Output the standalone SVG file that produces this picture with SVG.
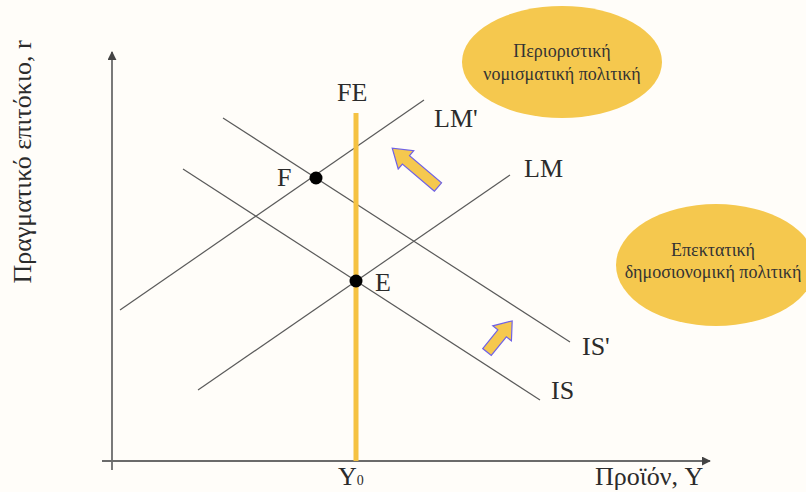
<svg xmlns="http://www.w3.org/2000/svg" width="806" height="492" viewBox="0 0 806 492">
<style>
.bg{fill:#fffdf9}
.curve{stroke:#5a5a5a;stroke-width:1.2;fill:none}
.axis{stroke:#6b6b6b;stroke-width:1.8;fill:none}
.lbl{font-family:"Liberation Serif","Times New Roman",serif;font-size:26px;fill:#2b2b2b}
.etxt{font-family:"Liberation Serif","Times New Roman",serif;font-size:18px;fill:#333;text-anchor:middle}
.bubble{fill:#f5c84e}
.barrow{fill:#f5c84e;stroke:#6f62e6;stroke-width:1.2}
.pt{fill:#000}
</style>
<defs>
<marker id="ah" viewBox="0 0 10 10" refX="9" refY="5" markerWidth="5" markerHeight="5" orient="auto" markerUnits="strokeWidth">
<path d="M0,0 L10,5 L0,10 z" fill="#444"/>
</marker>
</defs>
<rect class="bg" x="0" y="0" width="806" height="492"/>
<g id="axes">
<line class="axis" x1="112" y1="470" x2="112" y2="52" marker-end="url(#ah)"/>
<line class="axis" x1="102" y1="461" x2="710" y2="461" marker-end="url(#ah)"/>
<text class="lbl" transform="translate(31,162) rotate(-90)" text-anchor="middle">Πραγματικό επιτόκιο, r</text>
<text class="lbl" x="595" y="485">Προϊόν, Y</text>
<text class="lbl" x="338" y="485">Y<tspan font-size="14">0</tspan></text>
</g>
<g id="connectors">
<line id="LMp" class="curve" x1="120" y1="310" x2="424" y2="100"/>
<line id="LM" class="curve" x1="198" y1="390" x2="510" y2="175"/>
<line id="IS" class="curve" x1="183" y1="169" x2="540" y2="400"/>
<line id="ISp" class="curve" x1="223" y1="118" x2="570" y2="342"/>
</g>
<g id="FE">
<line x1="356" y1="113" x2="356" y2="461" stroke="#f5c242" stroke-width="5"/>
<text class="lbl" x="337" y="101">FE</text>
</g>
<g id="labels">
<text class="lbl" x="434" y="127">LM'</text>
<text class="lbl" x="524" y="177">LM</text>
<text class="lbl" x="551" y="399">IS</text>
<text class="lbl" x="582" y="355">IS'</text>
</g>
<g id="pointF">
<circle class="pt" cx="316" cy="178" r="6.5"/>
<text class="lbl" x="277" y="186">F</text>
</g>
<g id="pointE">
<circle class="pt" cx="356" cy="281" r="6.5"/>
<text class="lbl" x="375" y="291">E</text>
</g>
<g id="bubble1">
<ellipse class="bubble" cx="562" cy="62" rx="100" ry="56"/>
<text class="etxt" x="562" y="57">Περιοριστική</text>
<text class="etxt" x="562" y="80">νομισματική πολιτική</text>
</g>
<g id="bubble2">
<ellipse class="bubble" cx="716" cy="265" rx="100" ry="61"/>
<text class="etxt" x="713" y="256">Επεκτατική</text>
<text class="etxt" x="713" y="278">δημοσιονομική πολιτική</text>
</g>
<g id="arrow1">
<polygon class="barrow" transform="translate(438,187) rotate(220.3)" points="0,-5.5 42,-5.5 42,-12 60,0 42,12 42,5.5 0,5.5"/>
</g>
<g id="arrow2">
<polygon class="barrow" transform="translate(487,352) rotate(-51)" points="0,-5.5 24,-5.5 24,-12 40,0 24,12 24,5.5 0,5.5"/>
</g>
</svg>
